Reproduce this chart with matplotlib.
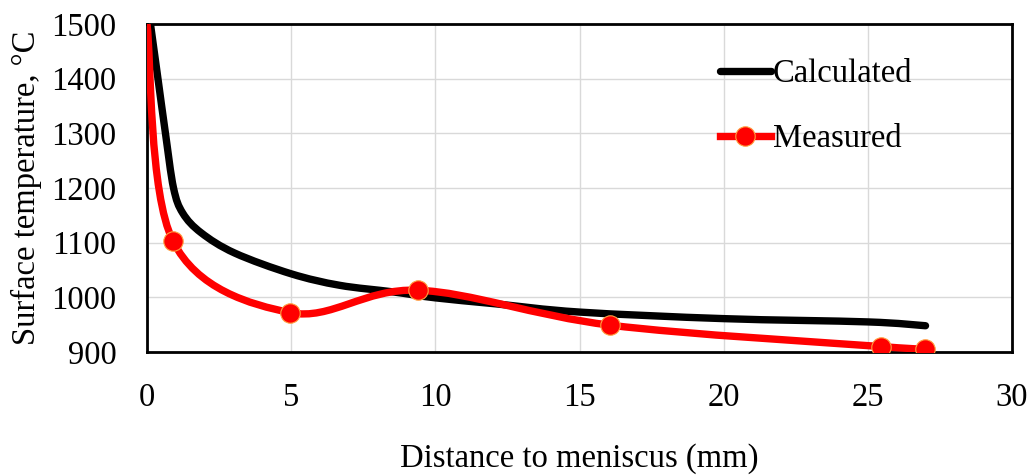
import numpy as np
import matplotlib
matplotlib.use("Agg")
import matplotlib.pyplot as plt
from matplotlib.path import Path
from matplotlib.patches import PathPatch
from matplotlib.lines import Line2D

plt.rcParams['font.family'] = ['Liberation Serif', 'DejaVu Serif']

# calculated surface temperature
calc_x = [0.12, 0.38, 0.64, 0.92, 1.24, 1.88, 3.04, 5, 6.68, 8.52, 10, 12.1, 15, 20, 25, 27]
calc_t = [1500, 1400, 1300, 1200, 1154, 1118, 1081, 1043, 1022, 1010, 999, 988, 973, 961, 955, 948]

# measured points
meas_x = [0, 0.9, 4.97, 9.39, 16.07, 25.44, 26.97]
meas_t = [1500, 1103, 972, 1013, 949, 910, 906]

x_ticks = [0, 5, 10, 15, 20, 25, 30]
y_ticks = [900, 1000, 1100, 1200, 1300, 1400, 1500]


def smooth_path(xs, ys):
    # excel-like smoothed line: cubic bezier through the points
    pts = np.column_stack([xs, ys]).astype(float)
    verts = [pts[0]]
    codes = [Path.MOVETO]
    n = len(pts)
    for i in range(n - 1):
        p0 = pts[i - 1] if i > 0 else pts[i]
        p1 = pts[i]
        p2 = pts[i + 1]
        p3 = pts[i + 2] if i + 2 < n else p2
        verts += [p1 + (p2 - p0) / 6, p2 - (p3 - p1) / 6, p2]
        codes += [Path.CURVE4] * 3
    return Path(verts, codes)


fig = plt.figure(figsize=(10.33, 4.75), dpi=100)
ax = fig.add_axes([0.1423, 0.259, 0.8374, 0.6905])

ax.add_patch(PathPatch(smooth_path(calc_x, calc_t), fill=False, edgecolor='black',
                       lw=5.3, capstyle='round', joinstyle='round', zorder=3))
ax.add_patch(PathPatch(smooth_path(meas_x, meas_t), fill=False, edgecolor='#ff0000',
                       lw=5.3, capstyle='round', joinstyle='round', zorder=4))
ax.plot(meas_x[1:], meas_t[1:], linestyle='none', marker='o', markersize=14,
        markerfacecolor='#ff0000', markeredgecolor='#ffa040', markeredgewidth=0.8, zorder=5)

ax.set_xlim(0, 30)
ax.set_ylim(900, 1500)
ax.set_xticks(x_ticks)
ax.set_yticks(y_ticks)
ax.tick_params(length=0, labelsize=23.5)
ax.tick_params(axis='x', pad=22)
ax.tick_params(axis='y', pad=22)
ax.grid(True, color='#d9d9d9', lw=1)
ax.set_axisbelow(True)
for s in ax.spines.values():
    s.set_linewidth(2)
    s.set_color('black')

ax.set_xlabel('Distance to meniscus (mm)', fontsize=23.5, labelpad=22)
ax.set_ylabel('Surface temperature, °C', fontsize=23.5, labelpad=7)

handles = [
    Line2D([], [], color='black', lw=5.3, solid_capstyle='round'),
    Line2D([], [], color='#ff0000', lw=5.3, marker='o', markersize=14,
           markerfacecolor='#ff0000', markeredgecolor='#ffa040', markeredgewidth=0.8),
]
ax.legend(handles, ['Calculated', 'Measured'], loc='upper left', bbox_to_anchor=(0.662, 0.894),
          frameon=False, fontsize=23.5, handlelength=1.58, handletextpad=0.05,
          labelspacing=1.05, borderpad=0, borderaxespad=0)

fig.savefig('out.png', dpi=100)
